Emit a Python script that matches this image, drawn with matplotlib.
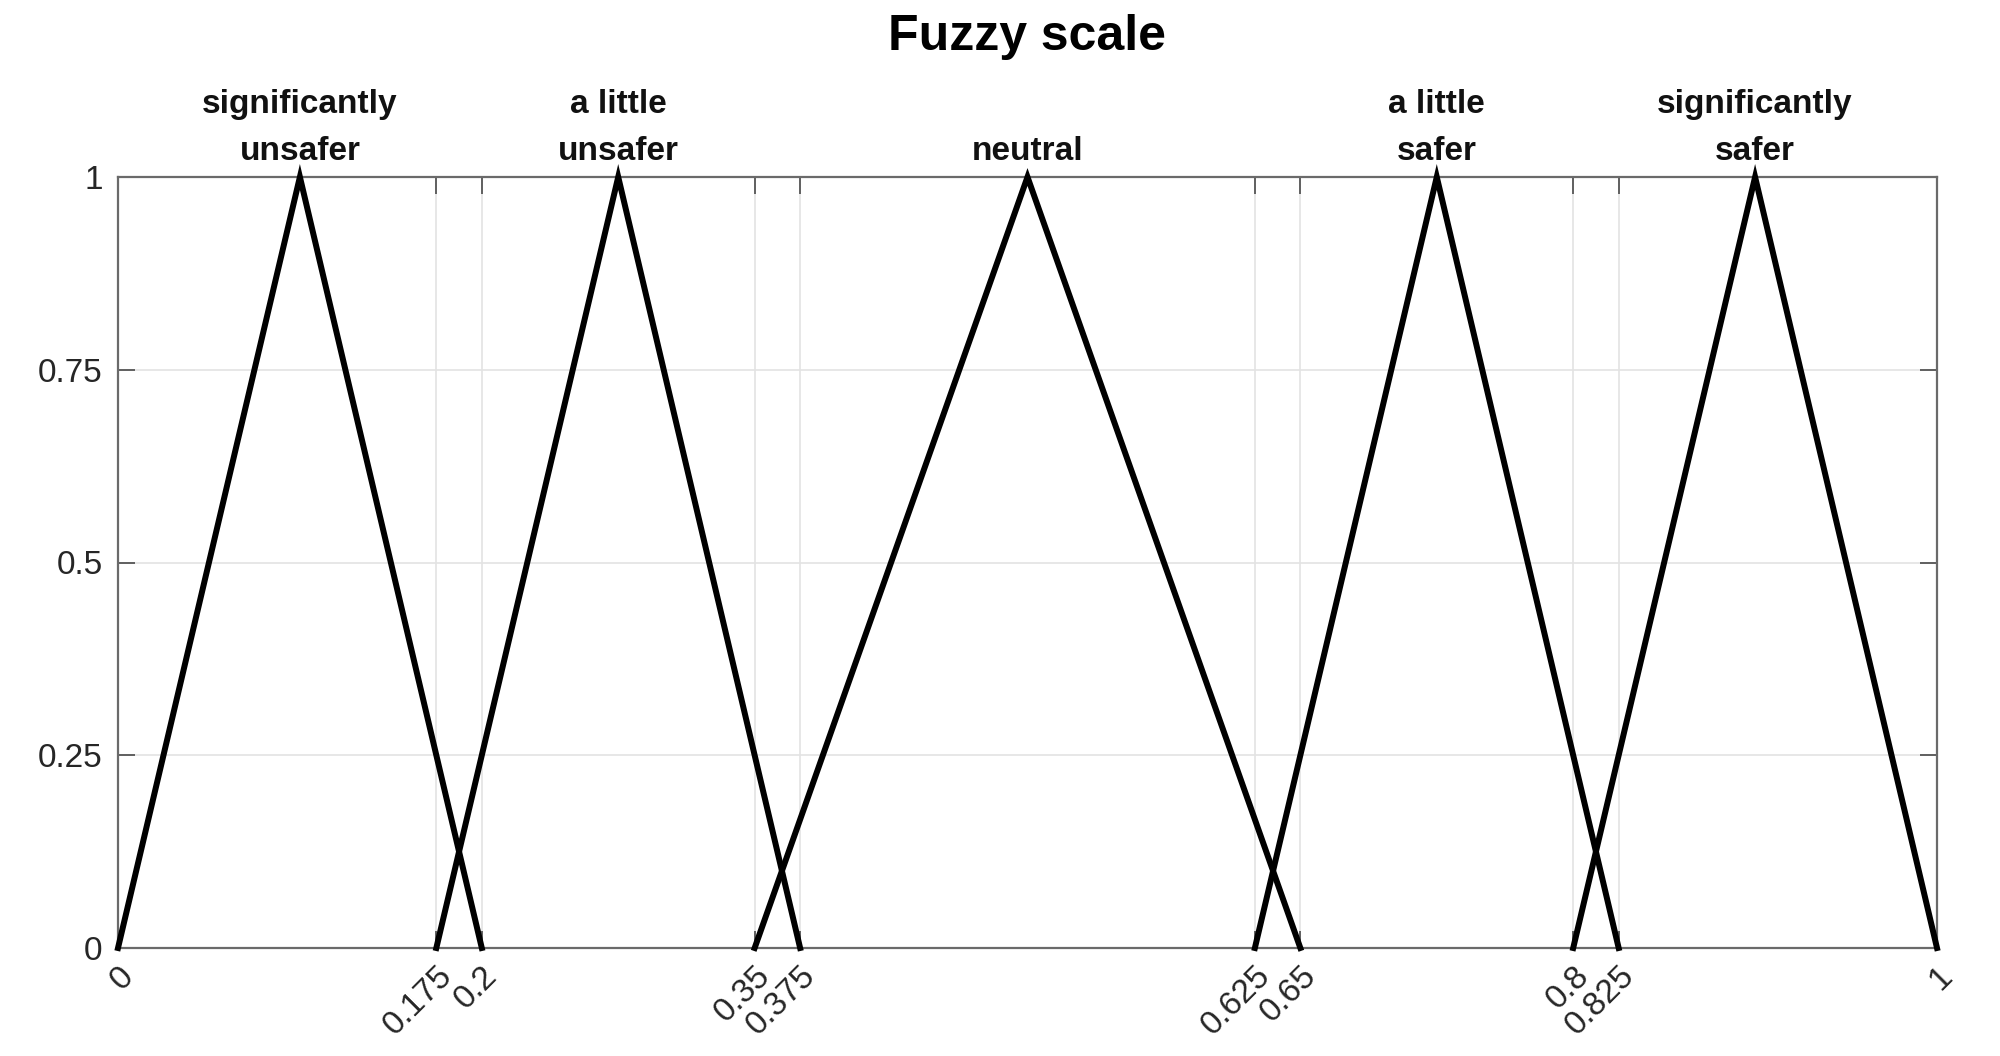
import matplotlib
matplotlib.use("Agg")
import matplotlib.pyplot as plt
from matplotlib.transforms import offset_copy

plt.rcParams['font.family'] = ['Liberation Sans', 'DejaVu Sans']

# Data
categories = ["significantly\nunsafer", "a little\nunsafer", "neutral",
              "a little\nsafer", "significantly\nsafer"]
left_pts = [0.0, 0.175, 0.35, 0.625, 0.8]
peak_pts = [0.1, 0.275, 0.5, 0.725, 0.9]
right_pts = [0.2, 0.375, 0.65, 0.825, 1.0]
x_ticks = [0, 0.175, 0.2, 0.35, 0.375, 0.625, 0.65, 0.8, 0.825, 1]
x_ticklabels = ["0", "0.175", "0.2", "0.35", "0.375", "0.625", "0.65", "0.8", "0.825", "1"]
y_ticks = [0, 0.25, 0.5, 0.75, 1]
y_ticklabels = ["0", "0.25", "0.5", "0.75", "1"]
title = "Fuzzy scale"

fig = plt.figure(figsize=(20, 10.56), dpi=100)
ax = fig.add_axes([0.059, 1 - 948 / 1056, 0.9095, (948 - 177) / 1056])

for a, b, c in zip(left_pts, peak_pts, right_pts):
    ax.plot([a, b, c], [0, 1, 0], color='black', lw=4.3, solid_joinstyle='miter', zorder=3,
            clip_on=False)

ax.set_xlim(0, 1)
ax.set_ylim(0, 1)
ax.set_xticks(x_ticks)
ax.set_yticks(y_ticks)
ax.set_yticklabels(y_ticklabels)
ax.set_xticklabels(x_ticklabels, rotation=45, ha='right', va='top', rotation_mode='anchor')

ax.grid(True, color='#e3e3e3', lw=1.2, zorder=0)
ax.set_axisbelow(True)
for s in ax.spines.values():
    s.set_color('#6a6a6a')
    s.set_linewidth(1.6)

ax.tick_params(axis='both', direction='in', length=12, width=1.3, color='#555555',
               labelsize=24, labelcolor='#262626', top=True, right=True)
ax.tick_params(axis='x', pad=9)
ax.tick_params(axis='y', pad=11)

# category labels above the axes
for lab, p in zip(categories, peak_pts):
    lines = lab.split("\n")
    n = len(lines)
    for i, line in enumerate(lines):
        # baseline of last line 17px above axes top, 47px line spacing
        dy = 17 + (n - 1 - i) * 47
        tr = offset_copy(ax.get_xaxis_transform(), fig=fig, x=0, y=dy * 72 / 100, units='points')
        ax.text(p, 1, line, transform=tr, ha='center', va='baseline',
                fontsize=24, fontweight='bold', color='#111111')

fig.text((0.059 + 0.9685) / 2, 1 - 50 / 1056, title, ha='center', va='baseline',
         fontsize=36, fontweight='bold', color='black')

fig.savefig("out.png", dpi=100, facecolor='white')
